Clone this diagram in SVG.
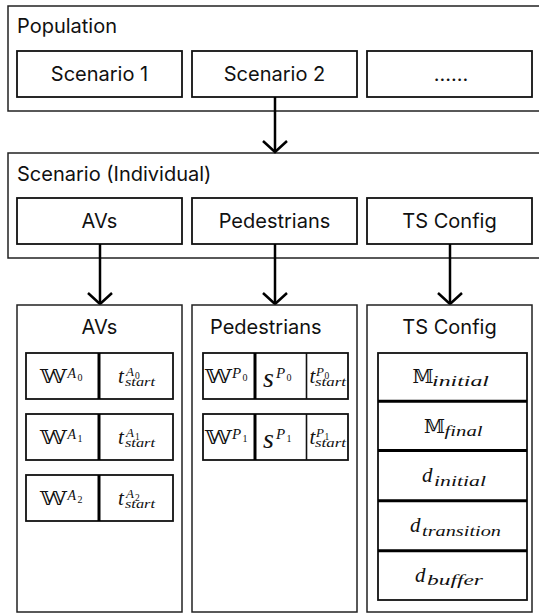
<svg xmlns="http://www.w3.org/2000/svg" width="539" height="614" viewBox="0 0 539 614">
<style>
.outer{fill:#fff;stroke:#222;stroke-width:1.5}
.box{fill:#fff;stroke:#111;stroke-width:1.8}
.thin{stroke:#111;stroke-width:1.6}
.lbl{font-family:Inter,"Liberation Sans",sans-serif;font-size:20px;fill:#111}
.c{text-anchor:middle}
.bb{font-family:"DejaVu Serif","Liberation Serif",serif;fill:#111}
.mi{font-family:"Liberation Serif","DejaVu Serif",serif;font-style:italic;fill:#111}
.mr{font-family:"Liberation Serif","DejaVu Serif",serif;fill:#111}
.conn{stroke:#000;stroke-width:2.5;fill:none}
.div{stroke:#000;stroke-width:3}
</style>
<defs>
<marker id="arr" viewBox="-14 -14 16 28" refX="0" refY="0" markerWidth="16" markerHeight="28" orient="auto" markerUnits="userSpaceOnUse" overflow="visible">
<path d="M-11,-12 L0,0 L-11,12" fill="none" stroke="#000" stroke-width="2.5"/>
</marker>
</defs>

<g id="population">
<rect class="outer" x="8" y="6" width="540" height="105"/>
<text class="lbl" x="17" y="33">Population</text>
</g>
<g id="scenario1">
<rect class="box" x="17" y="51" width="165" height="46"/>
<text class="lbl c" x="99.5" y="81">Scenario 1</text>
</g>
<g id="scenario2">
<rect class="box" x="192" y="51" width="165" height="46"/>
<text class="lbl c" x="274.5" y="81">Scenario 2</text>
</g>
<g id="scenario-more">
<rect class="box" x="367" y="51" width="165" height="46"/>
<text class="lbl c" x="451" y="81">......</text>
</g>

<g id="scenario-individual">
<rect class="outer" x="8" y="153" width="540" height="105"/>
<text class="lbl" x="17" y="181">Scenario (Individual)</text>
</g>
<g id="avs">
<rect class="box" x="17" y="198" width="165" height="46"/>
<text class="lbl c" x="99.5" y="228">AVs</text>
</g>
<g id="pedestrians">
<rect class="box" x="192" y="198" width="165" height="46"/>
<text class="lbl c" x="274.5" y="228">Pedestrians</text>
</g>
<g id="tsconfig">
<rect class="box" x="367" y="198" width="165" height="46"/>
<text class="lbl c" x="449.5" y="228">TS Config</text>
</g>

<g id="connectors">
<path class="conn" d="M275,97 L275,152" marker-end="url(#arr)"/>
<path class="conn" d="M100,244 L100,304" marker-end="url(#arr)"/>
<path class="conn" d="M275,244 L275,304" marker-end="url(#arr)"/>
<path class="conn" d="M450,244 L450,304" marker-end="url(#arr)"/>
</g>

<g id="avs-detail">
<rect class="outer" x="17" y="305" width="165" height="307"/>
<text class="lbl c" x="99.5" y="334">AVs</text>
<g id="av0">
<rect class="box" x="26" y="353" width="147" height="46"/>
<line class="div" x1="99" y1="353" x2="99" y2="399"/>
<text class="bb" font-size="18.5" transform="translate(40,383) scale(1.3,1)">𝕎</text>
<text class="mi" x="67.5" y="378" font-size="14">A</text><text class="mr" x="77.5" y="380.5" font-size="10">0</text>
<text class="mi" x="118" y="383" font-size="21">t</text>
<text class="mi" x="126" y="376" font-size="13">A</text><text class="mr" x="135" y="378.5" font-size="9.5">0</text>
<text class="mi" x="125" y="386" font-size="12" textLength="30" lengthAdjust="spacingAndGlyphs">start</text>
</g>
<g id="av1">
<rect class="box" x="26" y="414" width="147" height="46"/>
<line class="div" x1="99" y1="414" x2="99" y2="460"/>
<text class="bb" font-size="18.5" transform="translate(40,444) scale(1.3,1)">𝕎</text>
<text class="mi" x="67.5" y="439" font-size="14">A</text><text class="mr" x="77.5" y="441.5" font-size="10">1</text>
<text class="mi" x="118" y="444" font-size="21">t</text>
<text class="mi" x="126" y="437" font-size="13">A</text><text class="mr" x="135" y="439.5" font-size="9.5">1</text>
<text class="mi" x="125" y="447" font-size="12" textLength="30" lengthAdjust="spacingAndGlyphs">start</text>
</g>
<g id="av2">
<rect class="box" x="26" y="475" width="147" height="46"/>
<line class="div" x1="99" y1="475" x2="99" y2="521"/>
<text class="bb" font-size="18.5" transform="translate(40,505) scale(1.3,1)">𝕎</text>
<text class="mi" x="67.5" y="500" font-size="14">A</text><text class="mr" x="77.5" y="502.5" font-size="10">2</text>
<text class="mi" x="118" y="505" font-size="21">t</text>
<text class="mi" x="126" y="498" font-size="13">A</text><text class="mr" x="135" y="500.5" font-size="9.5">2</text>
<text class="mi" x="125" y="508" font-size="12" textLength="30" lengthAdjust="spacingAndGlyphs">start</text>
</g>
</g>

<g id="pedestrians-detail">
<rect class="outer" x="192" y="305" width="165" height="307"/>
<text class="lbl" x="210" y="334">Pedestrians</text>
<g id="ped0">
<rect class="box" x="203" y="353" width="145" height="46"/>
<line class="div" x1="255" y1="353" x2="255" y2="399"/>
<line class="thin" x1="306.5" y1="353" x2="306.5" y2="399"/>
<text class="bb" font-size="18.5" transform="translate(205,383) scale(1.3,1)">𝕎</text>
<text class="mi" x="232" y="378" font-size="15">P</text><text class="mr" x="242.5" y="380.5" font-size="10">0</text>
<text class="mi" x="263" y="386.5" font-size="28">s</text>
<text class="mi" x="276" y="378" font-size="15">P</text><text class="mr" x="286.5" y="380.5" font-size="10">0</text>
<text class="mi" x="309.5" y="383" font-size="21">t</text>
<text class="mi" x="316" y="376" font-size="13">P</text><text class="mr" x="324.5" y="378.5" font-size="9.5">0</text>
<text class="mi" x="315" y="386" font-size="12" textLength="31" lengthAdjust="spacingAndGlyphs">start</text>
</g>
<g id="ped1">
<rect class="box" x="203" y="414" width="145" height="46"/>
<line class="div" x1="255" y1="414" x2="255" y2="460"/>
<line class="thin" x1="306.5" y1="414" x2="306.5" y2="460"/>
<text class="bb" font-size="18.5" transform="translate(205,444) scale(1.3,1)">𝕎</text>
<text class="mi" x="232" y="439" font-size="15">P</text><text class="mr" x="242.5" y="441.5" font-size="10">1</text>
<text class="mi" x="263" y="447.5" font-size="28">s</text>
<text class="mi" x="276" y="439" font-size="15">P</text><text class="mr" x="286.5" y="441.5" font-size="10">1</text>
<text class="mi" x="309.5" y="444" font-size="21">t</text>
<text class="mi" x="316" y="437" font-size="13">P</text><text class="mr" x="324.5" y="439.5" font-size="9.5">1</text>
<text class="mi" x="315" y="447" font-size="12" textLength="31" lengthAdjust="spacingAndGlyphs">start</text>
</g>
</g>

<g id="tsconfig-detail">
<rect class="outer" x="367" y="305" width="165" height="307"/>
<text class="lbl c" x="449.5" y="334">TS Config</text>
<rect class="box" x="378" y="353" width="149" height="247"/>
<line class="div" x1="378" y1="401.3" x2="527" y2="401.3"/>
<line class="div" x1="378" y1="450.5" x2="527" y2="450.5"/>
<line class="div" x1="378" y1="500.7" x2="527" y2="500.7"/>
<line class="div" x1="378" y1="550.7" x2="527" y2="550.7"/>
<g id="m-initial"><text class="bb" x="412.5" y="383.3" font-size="19">𝕄</text><text class="mi" x="432" y="386" font-size="14" textLength="57" lengthAdjust="spacingAndGlyphs">initial</text></g>
<g id="m-final"><text class="bb" x="424" y="433.3" font-size="19">𝕄</text><text class="mi" x="444.5" y="436" font-size="14" textLength="38" lengthAdjust="spacingAndGlyphs">final</text></g>
<g id="d-initial"><text class="mi" x="422" y="482" font-size="21">d</text><text class="mi" x="434" y="485.5" font-size="14" textLength="52" lengthAdjust="spacingAndGlyphs">initial</text></g>
<g id="d-transition"><text class="mi" x="410" y="532" font-size="21">d</text><text class="mi" x="422" y="535.5" font-size="14" textLength="79" lengthAdjust="spacingAndGlyphs">transition</text></g>
<g id="d-buffer"><text class="mi" x="415" y="581.5" font-size="21">d</text><text class="mi" x="427" y="585" font-size="14" textLength="56" lengthAdjust="spacingAndGlyphs">buffer</text></g>
</g>
</svg>
